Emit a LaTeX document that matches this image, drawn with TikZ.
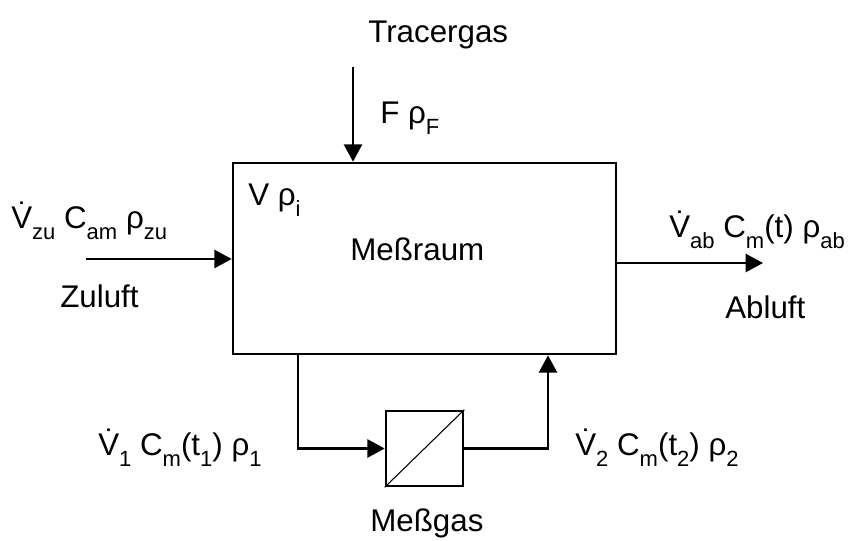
\documentclass[tikz,border=0pt]{standalone}
\usepackage{fontspec}
\setmainfont{Liberation Sans}
\usetikzlibrary{arrows.meta}
\newcommand{\ix}[1]{\raisebox{-0.36em}{\fontsize{16.5}{17}\selectfont #1}}

\begin{document}
\begin{tikzpicture}[x=0.75pt, y=-0.75pt, font=\fontsize{23.5}{27}\selectfont,
    box/.style={draw, line width=1.9pt, inner sep=0pt},
    lbl/.style={anchor=base west, inner sep=0pt},
    flow/.style={line width=1.9pt, -{Triangle[length=13pt, width=13.5pt]}}]
    \useasboundingbox (0,0) rectangle (850,540);

    % Messraum und Messgas
    \node[box, minimum width=287.25pt, minimum height=143.25pt] (raum) at (424.5,258.5) {};
    \node[box, minimum width=57.75pt, minimum height=56.25pt] (gas) at (424.5,448.5) {};
    \draw[line width=0.8pt] (gas.south west) -- (gas.north east);

    % Ein- und Ausgaenge
    \coordinate (tin) at (353,67);
    \coordinate (zin) at (86,259);
    \coordinate (aout) at (763,263);
    \coordinate (lk) at (298,448.5);
    \coordinate (rk) at (548,448.5);

    \draw[flow] (tin) -- (tin |- raum.north);
    \draw[flow] (zin) -- (zin -| raum.west);
    \draw[flow] (aout -| raum.east) -- (aout);
    \draw[flow] (lk |- raum.south) -- (lk) -- (gas.west);
    \draw[flow] (gas.east) -- (rk) -- (rk |- raum.south);

    % Beschriftung
    \node[lbl] (tracer) at (368,42) {Tracergas};
    \node[lbl] (frho) at (380,123) {F ρ\ix{F}};
    \node[lbl] (vrho) at (248,205) {V ρ\ix{i}};
    \node[lbl] (raumtxt) at (350,260) {Meßraum};
    \node[lbl] (vzu) at (11,228) {\.V\ix{zu} C\ix{am} ρ\ix{zu}};
    \node[lbl] (zuluft) at (60,307) {Zuluft};
    \node[lbl] (vab) at (669,237) {\.V\ix{ab} C\ix{m}(t) ρ\ix{ab}};
    \node[lbl] (abluft) at (725,318) {Abluft};
    \node[lbl] (veins) at (98,455) {\.V\ix{1} C\ix{m}(t\ix{1}) ρ\ix{1}};
    \node[lbl] (vzwei) at (575,455) {\.V\ix{2} C\ix{m}(t\ix{2}) ρ\ix{2}};
    \node[lbl] (gastxt) at (370,531) {Meßgas};
\end{tikzpicture}
\end{document}
